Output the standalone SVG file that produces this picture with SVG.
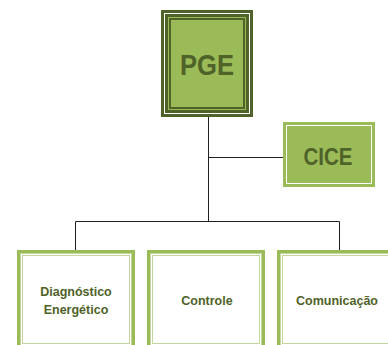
<svg xmlns="http://www.w3.org/2000/svg" width="388" height="345" viewBox="0 0 388 345">
  <style>
    .dk { fill: #4f6228; }
    .lg { fill: #9bbb59; }
    .wh { fill: #ffffff; }
    .pl { fill: #c3d69b; }
    .big { font-family: "Liberation Sans", Arial, sans-serif; font-weight: bold; fill: #4f6228; text-anchor: middle; }
    .lbl { font-family: "Liberation Sans", Arial, sans-serif; font-weight: bold; font-size: 12.5px; fill: #4f6228; text-anchor: middle; }
    .conn { stroke: #1f1f1f; stroke-width: 1; fill: none; }
    .inl { fill: none; stroke: #c3d69b; stroke-width: 1; }
  </style>
  <rect width="388" height="345" fill="#ffffff"/>
  <g id="connectors">
    <path class="conn" d="M208.5 117 V221.5"/>
    <path class="conn" d="M208.5 157.5 H283"/>
    <path class="conn" d="M75.5 250 V221.5 H339.5 V250"/>
  </g>
  <g id="pge">
    <rect class="dk" x="161" y="10" width="92" height="107"/>
    <rect class="wh" x="164" y="13" width="86" height="101"/>
    <rect class="dk" x="165" y="14" width="84" height="99"/>
    <rect class="lg" x="168" y="17" width="78" height="93"/>
    <rect class="dk" x="169" y="18" width="76" height="91"/>
    <rect class="lg" x="171" y="20" width="72" height="87"/>
    <text class="big" x="207" y="75" font-size="30" textLength="54" lengthAdjust="spacingAndGlyphs">PGE</text>
  </g>
  <g id="cice">
    <rect class="lg" x="283" y="122" width="92" height="65"/>
    <rect fill="none" stroke="#ffffff" stroke-width="1" x="286.5" y="125.5" width="85" height="58"/>
    <text class="big" x="328" y="165" font-size="23" textLength="49" lengthAdjust="spacingAndGlyphs">CICE</text>
  </g>
  <g id="diagnostico">
    <rect class="lg" x="17" y="250" width="118" height="100"/>
    <rect class="pl" x="20" y="253" width="112" height="94"/>
    <rect class="wh" x="21" y="254" width="110" height="92"/>
    <rect class="inl" x="22.5" y="255.5" width="107" height="88"/>
    <text class="lbl" x="76" y="296">Diagnóstico</text>
    <text class="lbl" x="76" y="314">Energético</text>
  </g>
  <g id="controle">
    <rect class="lg" x="147" y="250" width="118" height="100"/>
    <rect class="pl" x="150" y="253" width="112" height="94"/>
    <rect class="wh" x="151" y="254" width="110" height="92"/>
    <rect class="inl" x="152.5" y="255.5" width="107" height="88"/>
    <text class="lbl" x="207" y="305">Controle</text>
  </g>
  <g id="comunicacao">
    <rect class="lg" x="277" y="250" width="118" height="100"/>
    <rect class="pl" x="280" y="253" width="112" height="94"/>
    <rect class="wh" x="281" y="254" width="110" height="92"/>
    <rect class="inl" x="282.5" y="255.5" width="107" height="88"/>
    <text class="lbl" x="337" y="305">Comunicação</text>
  </g>
</svg>
